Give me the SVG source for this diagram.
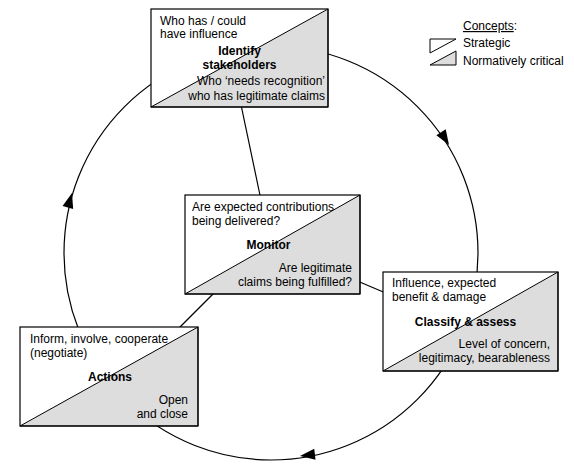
<svg xmlns="http://www.w3.org/2000/svg" xmlns:xlink="http://www.w3.org/1999/xlink" width="574" height="471" viewBox="0 0 574 471">
<style>
text{font-family:"Liberation Sans",Arial,sans-serif;font-size:12px;fill:#000}
.b{font-weight:bold;text-anchor:middle}
.r{text-anchor:end}
.box{fill:#fff;stroke:none}
.tri{fill:#dddddd;stroke:#000;stroke-width:1}
.frame{fill:none;stroke:#000;stroke-width:1.2}
.line{fill:none;stroke:#000;stroke-width:1.2}
.ah{fill:#000;stroke:none}
</style>
<defs>
<path id="arrow" d="M0,0 L-15,-5.5 L-15,5.5 Z"/>
</defs>
<g id="connectors">
<circle class="line" cx="271" cy="253" r="207"/>
<line class="line" x1="240" y1="100" x2="261" y2="200"/>
<line class="line" x1="355" y1="280" x2="388" y2="294"/>
<line class="line" x1="217" y1="290" x2="176" y2="331"/>
<use xlink:href="#arrow" class="ah" transform="translate(449,145) rotate(58)"/>
<use xlink:href="#arrow" class="ah" transform="translate(300,456) rotate(173)"/>
<use xlink:href="#arrow" class="ah" transform="translate(72,193) rotate(286)"/>
</g>
<g id="identify">
<rect class="box" x="151" y="9" width="177" height="98"/>
<polygon class="tri" points="151,107 328,9 328,107"/>
<rect class="frame" x="151" y="9" width="177" height="98"/>
<text x="160" y="25">Who has / could</text>
<text x="160" y="38">have influence</text>
<text class="b" x="239.5" y="55">Identify</text>
<text class="b" x="239.5" y="69">stakeholders</text>
<text class="r" x="325" y="85">Who ‘needs recognition’</text>
<text class="r" x="325" y="100">who has legitimate claims</text>
</g>
<g id="monitor">
<rect class="box" x="185" y="195" width="175" height="99"/>
<polygon class="tri" points="185,294 360,195 360,294"/>
<rect class="frame" x="185" y="195" width="175" height="99"/>
<text x="192" y="211">Are expected contributions</text>
<text x="192" y="225">being delivered?</text>
<text class="b" x="268.5" y="249">Monitor</text>
<text class="r" x="352" y="272">Are legitimate</text>
<text class="r" x="352" y="286">claims being fulfilled?</text>
</g>
<g id="actions">
<rect class="box" x="20" y="327" width="178" height="99"/>
<polygon class="tri" points="20,426 198,327 198,426"/>
<rect class="frame" x="20" y="327" width="178" height="99"/>
<text x="30" y="343">Inform, involve, cooperate</text>
<text x="30" y="357">(negotiate)</text>
<text class="b" x="110" y="381">Actions</text>
<text class="r" x="188" y="404">Open</text>
<text class="r" x="188" y="418">and close</text>
</g>
<g id="classify">
<rect class="box" x="383" y="272" width="175" height="99"/>
<polygon class="tri" points="383,371 558,272 558,371"/>
<rect class="frame" x="383" y="272" width="175" height="99"/>
<text x="392" y="287">Influence, expected</text>
<text x="392" y="301">benefit &amp; damage</text>
<text class="b" x="465.5" y="326">Classify &amp; assess</text>
<text class="r" x="550" y="348">Level of concern,</text>
<text class="r" x="550" y="362">legitimacy, bearableness</text>
</g>
<g id="legend">
<text x="463" y="30"><tspan text-decoration="underline">Concepts</tspan>:</text>
<polygon points="430,39 456,39 430,53" fill="#fff" stroke="#000" stroke-width="1"/>
<text x="463" y="47">Strategic</text>
<polygon points="430,65 456,51 456,65" fill="#dddddd" stroke="#000" stroke-width="1"/>
<text x="463" y="65">Normatively critical</text>
</g>
</svg>
